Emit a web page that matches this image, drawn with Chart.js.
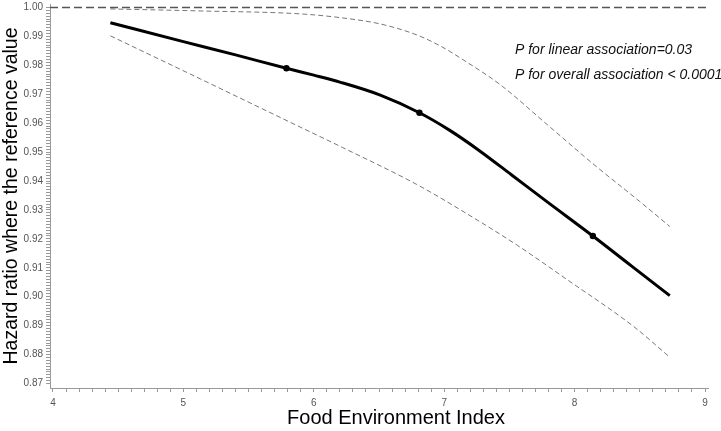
<!DOCTYPE html>
<html>
<head>
<meta charset="utf-8">
<script src="https://cdn.jsdelivr.net/npm/chart.js@4"></script>
<style>
  html, body { margin: 0; padding: 0; background: #fff; }
  #wrap { width: 721px; height: 431px; }
</style>
</head>
<body>
<div id="wrap"><canvas id="hrChart" width="721" height="431"></canvas></div>
<script>
// Curva principal (hazard ratio)
const fei = [4.44, 5.0, 5.4, 5.79, 6.0, 6.2, 6.51, 6.81, 7.04, 7.27, 7.52, 7.79, 8.14, 8.44, 8.73];
const hr = [0.9947, 0.9882, 0.9836, 0.9790, 0.9766, 0.9742, 0.9697, 0.9636, 0.9576, 0.9505, 0.9420, 0.9328, 0.9210, 0.9105, 0.9004];

// Nudos marcados con puntos
const knotX = [5.79, 6.81, 8.14];
const knotY = [0.9790, 0.9636, 0.9210];

// Intervalo de confianza superior
const upperX = [4.44, 5.13, 5.89, 6.2, 6.51, 6.79, 6.97, 7.17, 7.43, 7.79, 8.14, 8.5, 8.73];
const upper = [0.9995, 0.9988, 0.9978, 0.9965, 0.9943, 0.9905, 0.9867, 0.9812, 0.9733, 0.9595, 0.9460, 0.9329, 0.9243];

// Intervalo de confianza inferior
const lowerX = [4.44, 5.13, 5.76, 6.22, 6.79, 7.17, 7.56, 7.94, 8.45, 8.73];
const lower = [0.9902, 0.9753, 0.9616, 0.9516, 0.9388, 0.9288, 0.9178, 0.9060, 0.8898, 0.8791];

// Ejes y etiquetas
const xTicks = [4, 5, 6, 7, 8, 9];
const yTicks = [0.87, 0.88, 0.89, 0.90, 0.91, 0.92, 0.93, 0.94, 0.95, 0.96, 0.97, 0.98, 0.99, 1.00];
const xMin = 3.977, xMax = 9.023;
const yMin = 0.86845, yMax = 1.0012;
const refValue = 1.0;
const xTitle = 'Food Environment Index';
const yTitle = 'Hazard ratio where the reference value';
const notes = ['P for linear association=0.03', 'P for overall association < 0.0001'];

const toPts = (xs, ys) => xs.map((x, i) => ({ x: x, y: ys[i] }));

// marcas menores: cada 0.1 en x, cada 0.001 en y
function minorTicks(major, step) {
  const out = [];
  const a = Math.round(major[0] / step), b = Math.round(major[major.length - 1] / step);
  for (let i = a; i <= b; i++) out.push({ value: +(i * step).toFixed(4) });
  return out;
}

const fontFamily = '"Liberation Sans", Arial, sans-serif';

// textos: título del eje x y los valores P
const textPlugin = {
  id: 'texts',
  afterDraw(chart) {
    const c = chart.ctx;
    c.save();
    c.fillStyle = '#000';
    c.textBaseline = 'middle';
    c.font = '20px ' + fontFamily;
    c.textAlign = 'center';
    c.fillText(xTitle, 396, 418);
    c.font = 'italic 14px ' + fontFamily;
    c.fillStyle = '#111';
    c.textAlign = 'left';
    c.fillText(notes[0], 515, 50);
    c.fillText(notes[1], 515, 75);
    c.restore();
  }
};

const tickFont = { family: fontFamily, size: 10 };

const ctx = document.getElementById('hrChart').getContext('2d');
const hrChart = new Chart(ctx, {
  type: 'line',
  data: {
    datasets: [
      {
        label: 'ref',
        data: toPts([xMin, xMax], [refValue, refValue]),
        borderColor: '#555',
        borderWidth: 1.5,
        borderDash: [8, 4],
        pointRadius: 0
      },
      {
        label: 'upper',
        data: toPts(upperX, upper),
        borderColor: '#777',
        borderWidth: 1,
        borderDash: [5, 3],
        pointRadius: 0,
        cubicInterpolationMode: 'monotone'
      },
      {
        label: 'lower',
        data: toPts(lowerX, lower),
        borderColor: '#777',
        borderWidth: 1,
        borderDash: [5, 3],
        pointRadius: 0,
        cubicInterpolationMode: 'monotone'
      },
      {
        label: 'HR',
        data: toPts(fei, hr),
        borderColor: '#000',
        borderWidth: 3,
        pointRadius: 0,
        cubicInterpolationMode: 'monotone'
      },
      {
        label: 'knots',
        data: toPts(knotX, knotY),
        showLine: false,
        pointRadius: 3.2,
        pointBackgroundColor: '#000',
        pointBorderColor: '#000',
        pointBorderWidth: 0
      }
    ]
  },
  options: {
    responsive: false,
    animation: false,
    layout: { padding: { top: 3, right: 13, left: 0, bottom: 0 } },
    plugins: {
      legend: { display: false },
      tooltip: { enabled: false }
    },
    scales: {
      x: {
        type: 'linear',
        min: xMin,
        max: xMax,
        afterBuildTicks: (s) => { s.ticks = minorTicks(xTicks, 0.1); },
        afterFit: (s) => { s.height = 43; s.paddingLeft = 0; s.paddingRight = 0; },
        grid: { drawOnChartArea: false, drawTicks: true, tickLength: 4, color: '#999' },
        border: { display: true, color: '#999' },
        ticks: {
          autoSkip: false,
          maxRotation: 0,
          padding: 5,
          color: '#555',
          font: tickFont,
          callback: (v) => (xTicks.some(t => Math.abs(t - v) < 1e-6) ? String(Math.round(v)) : '')
        }
      },
      y: {
        type: 'linear',
        min: yMin,
        max: yMax,
        afterBuildTicks: (s) => { s.ticks = minorTicks(yTicks, 0.001); },
        afterFit: (s) => { s.width = 50; s.paddingTop = 0; s.paddingBottom = 0; },
        grid: { drawOnChartArea: false, drawTicks: true, tickLength: 4, color: '#999' },
        border: { display: true, color: '#999' },
        ticks: {
          autoSkip: false,
          padding: 3,
          color: '#555',
          font: tickFont,
          callback: (v) => (yTicks.some(t => Math.abs(t - v) < 1e-6) ? v.toFixed(2) : '')
        },
        title: {
          display: true,
          text: yTitle,
          color: '#000',
          font: { family: fontFamily, size: 19.5 },
          padding: { top: 0, bottom: 0 }
        }
      }
    }
  },
  plugins: [textPlugin]
});
</script>
</body>
</html>
